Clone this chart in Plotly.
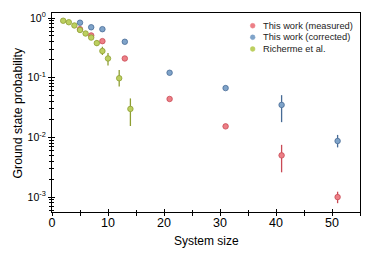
import plotly.graph_objects as go

# Data
meas_x = [5, 7, 9, 13, 21, 31, 41, 51]
meas_y = [0.65, 0.51, 0.41, 0.21, 0.044, 0.0153, 0.0050, 0.0010]
meas_up = [0.02, 0.02, 0.02, 0.01, 0.002, 0.0008, 0.0025, 0.00023]
meas_dn = [0.02, 0.02, 0.02, 0.01, 0.002, 0.0008, 0.0024, 0.00021]

corr_x = [5, 7, 9, 13, 21, 31, 41, 51]
corr_y = [0.835, 0.70, 0.65, 0.40, 0.121, 0.067, 0.035, 0.0087]
corr_up = [0.02, 0.02, 0.02, 0.02, 0.006, 0.004, 0.016, 0.0023]
corr_dn = [0.02, 0.02, 0.02, 0.02, 0.006, 0.004, 0.017, 0.0019]

rich_x = [2, 3, 4, 5, 6, 7, 8, 9, 10, 12, 14]
rich_y = [0.90, 0.85, 0.75, 0.63, 0.55, 0.47, 0.38, 0.28, 0.21, 0.098, 0.030]
rich_up = [0.02, 0.02, 0.02, 0.02, 0.03, 0.03, 0.04, 0.05, 0.05, 0.037, 0.015]
rich_dn = [0.02, 0.02, 0.02, 0.02, 0.03, 0.03, 0.04, 0.04, 0.05, 0.027, 0.0145]

y_tickvals = [1e-3, 1e-2, 1e-1, 1]
y_ticktext = ["10<sup>-3</sup>", "10<sup>-2</sup>", "10<sup>-1</sup>", "10<sup>0</sup>"]

x_title = "System size"
y_title = "Ground state probability"

FONT = "Liberation Sans, Arial, sans-serif"

series = [
    ("This work (measured)", meas_x, meas_y, meas_up, meas_dn, "#ec7f86", "#c94a55"),
    ("This work (corrected)", corr_x, corr_y, corr_up, corr_dn, "#7fa3c9", "#476b95"),
    ("Richerme et al.", rich_x, rich_y, rich_up, rich_dn, "#bccf5f", "#8e9e33"),
]

fig = go.Figure()
for name, xs, ys, up, dn, fill, edge in series:
    fig.add_trace(go.Scatter(
        x=xs, y=ys, mode="markers", name=name, showlegend=False,
        marker=dict(size=5.5, color=fill, line=dict(color=edge, width=0.8)),
        error_y=dict(type="data", symmetric=False, array=up, arrayminus=dn,
                     color=edge, thickness=1.3, width=0),
    ))
# empty trace so that the overlay axes (inner halves of ticks) are drawn
fig.add_trace(go.Scatter(x=[], y=[], xaxis="x2", yaxis="y2", showlegend=False,
                         hoverinfo="skip"))

# manual compact legend (paper coordinates)
leg_x_marker = 0.6516
leg_x_text = 0.6786
leg_ys = [0.936, 0.878, 0.819]
rx, ry = 0.0078, 0.0121
for (name, *_rest, fill, edge), ly in zip(series, leg_ys):
    fig.add_shape(type="circle", xref="paper", yref="paper",
                  x0=leg_x_marker - rx, x1=leg_x_marker + rx,
                  y0=ly - ry, y1=ly + ry,
                  fillcolor=fill, line=dict(color=fill, width=0.5))
    fig.add_annotation(xref="paper", yref="paper", x=leg_x_text, y=ly,
                       xanchor="left", yanchor="middle", text=name,
                       showarrow=False, font=dict(size=9.3, family=FONT, color="#222"))

# axis titles as annotations for exact placement
fig.add_annotation(xref="paper", yref="paper", x=0.5, y=-0.1457,
                   xanchor="center", yanchor="middle", text=x_title, showarrow=False,
                   font=dict(size=12, family=FONT, color="black"))
fig.add_annotation(xref="paper", yref="paper", x=-0.1104, y=0.5,
                   xanchor="center", yanchor="middle", text=y_title, showarrow=False,
                   textangle=-90, font=dict(size=12.3, family=FONT, color="black"))

axis_common = dict(showline=True, linecolor="black", linewidth=1.2,
                   showgrid=False, zeroline=False, tickcolor="black",
                   automargin=False)

fig.update_layout(
    width=374, height=253,
    margin=dict(l=52, r=14, t=13, b=41),
    paper_bgcolor="white", plot_bgcolor="white",
    font=dict(family=FONT, color="black", size=12),
    showlegend=False,
    xaxis=dict(range=[0, 55], tick0=0, dtick=10, ticks="outside", ticklen=3,
               tickwidth=1, mirror=True, ticklabelstandoff=-4,
               minor=dict(tick0=0, dtick=5, ticks="outside", ticklen=2.5, tickcolor="black"),
               tickfont=dict(size=12.5), **axis_common),
    yaxis=dict(type="log", range=[-3.25, 0.084], tickvals=y_tickvals, ticktext=y_ticktext,
               ticks="outside", ticklen=3, tickwidth=1, mirror=True,
               minor=dict(dtick="D1", ticks="outside", ticklen=2, tickcolor="black"),
               tickfont=dict(size=10.5), **axis_common),
    xaxis2=dict(overlaying="x", range=[0, 55], tick0=0, dtick=10, ticks="inside",
                ticklen=3, tickwidth=1, showticklabels=False, side="bottom",
                minor=dict(tick0=0, dtick=5, ticks="inside", ticklen=2.5, tickcolor="black"),
                showline=False, showgrid=False, zeroline=False, tickcolor="black"),
    yaxis2=dict(overlaying="y", type="log", range=[-3.25, 0.084], tickvals=y_tickvals,
                ticks="inside", ticklen=3, tickwidth=1, showticklabels=False, side="left",
                minor=dict(dtick="D1", ticks="inside", ticklen=2, tickcolor="black"),
                showline=False, showgrid=False, zeroline=False, tickcolor="black"),
)

fig.write_html("out.html", config={"displayModeBar": False},
               post_script="document.body.style.margin='0';document.body.style.overflow='hidden';")
